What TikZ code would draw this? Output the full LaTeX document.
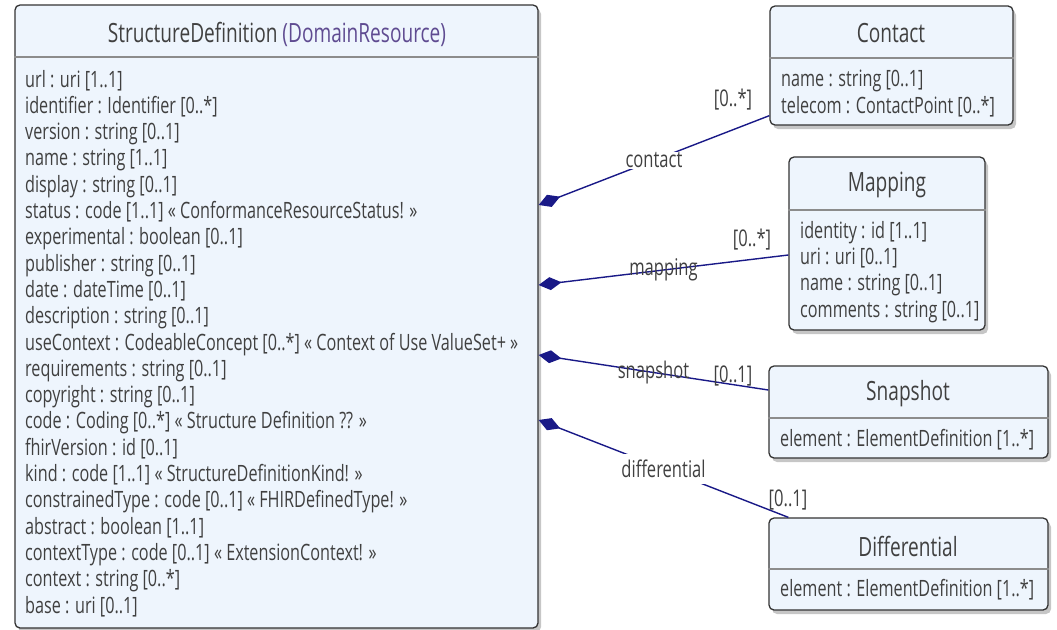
\documentclass[tikz,border=0pt]{standalone}
\usepackage{fontspec}
\setmainfont[FakeStretch=0.72]{Open Sans}
\usetikzlibrary{arrows.meta,shadows}
\definecolor{umlfill}{RGB}{238,245,253}
\definecolor{umltext}{RGB}{64,64,64}
\definecolor{umlline}{RGB}{25,25,135}
\definecolor{umlparent}{RGB}{95,75,145}
\begin{document}
\begin{tikzpicture}[x=1pt, y=-1pt,
  cls/.style={draw=black!80, line width=1.3pt, fill=umlfill, rounded corners=5pt,
    drop shadow={shadow xshift=3pt, shadow yshift=-4pt, opacity=.45}, inner sep=0pt},
  ttl/.style={text=umltext, font=\fontsize{26.5}{29}\selectfont},
  att/.style={text=umltext, font=\fontsize{22.5}{26.3}\selectfont, align=left, anchor=base west, inner sep=0pt},
  sep/.style={draw=black!45, line width=1.3pt},
  assoc/.style={draw=umlline, line width=1.4pt, {Diamond[length=23pt,width=13pt]}-},
  role/.style={text=umltext, font=\fontsize{23}{25}\selectfont, inner sep=1pt},
  mult/.style={text=umltext, font=\fontsize{23}{25}\selectfont}]
\useasboundingbox (0,0) rectangle (1057,629);
\node[cls, minimum width=523pt, minimum height=623pt] (sd) at (276.5,316.5) {};
\node[cls, minimum width=243pt, minimum height=119pt] (ct) at (891.5,65.5) {};
\node[cls, minimum width=196pt, minimum height=173pt] (mp) at (887,243.5) {};
\node[cls, minimum width=279pt, minimum height=92pt] (sn) at (908.5,412) {};
\node[cls, minimum width=279pt, minimum height=92pt] (df) at (908.5,564) {};
\draw[sep] (sd.west |- 0,57) -- (sd.east |- 0,57);
\draw[sep] (ct.west |- 0,58) -- (ct.east |- 0,58);
\draw[sep] (mp.west |- 0,210) -- (mp.east |- 0,210);
\draw[sep] (sn.west |- 0,418) -- (sn.east |- 0,418);
\draw[sep] (df.west |- 0,569) -- (df.east |- 0,569);
\node[ttl] (sdT) at (277,34) {StructureDefinition \textcolor{umlparent}{(DomainResource)}};
\node[ttl] (ctT) at (891,33) {Contact};
\node[ttl] (mpT) at (887,185) {Mapping};
\node[ttl] (snT) at (908,394) {Snapshot};
\node[ttl] (dfT) at (908,546) {Differential};
\node[att] (sdA) at (25,613) {url : uri [1..1]\\
  identifier : Identifier [0..*]\\
  version : string [0..1]\\
  name : string [1..1]\\
  display : string [0..1]\\
  status : code [1..1] « ConformanceResourceStatus! »\\
  experimental : boolean [0..1]\\
  publisher : string [0..1]\\
  date : dateTime [0..1]\\
  description : string [0..1]\\
  useContext : CodeableConcept [0..*] « Context of Use ValueSet+ »\\
  requirements : string [0..1]\\
  copyright : string [0..1]\\
  code : Coding [0..*] « Structure Definition ?? »\\
  fhirVersion : id [0..1]\\
  kind : code [1..1] « StructureDefinitionKind! »\\
  constrainedType : code [0..1] « FHIRDefinedType! »\\
  abstract : boolean [1..1]\\
  contextType : code [0..1] « ExtensionContext! »\\
  context : string [0..*]\\
  base : uri [0..1]};
\node[att] (ctA) at (781,113) {name : string [0..1]\\
  telecom : ContactPoint [0..*]};
\node[att] (mpA) at (800,317) {identity : id [1..1]\\
  uri : uri [0..1]\\
  name : string [0..1]\\
  comments : string [0..1]};
\node[att] (snA) at (780,446) {element : ElementDefinition [1..*]};
\node[att] (dfA) at (780,596) {element : ElementDefinition [1..*]};
\draw[assoc] (sd.east |- 0,205) -- node[role, fill=white] (ctR) {contact} ([yshift=10pt]ct.south west);
\draw[assoc] (sd.east |- 0,285) -- node[role] (mpR) {mapping} ([yshift=-11.5pt]mp.west);
\draw[assoc] (sd.east |- 0,355) -- node[role] (snR) {snapshot} ([yshift=22pt]sn.west);
\draw[assoc] (sd.east |- 0,420) -- node[role, fill=white, inner sep=6pt] (dfR) {differential} ([xshift=20pt]df.north west);
\node[mult] (ctM) at (733,100) {[0..*]};
\node[mult] (mpM) at (752,240) {[0..*]};
\node[mult] (snM) at (733,376) {[0..1]};
\node[mult] (dfM) at (788,500) {[0..1]};
\end{tikzpicture}
\end{document}
